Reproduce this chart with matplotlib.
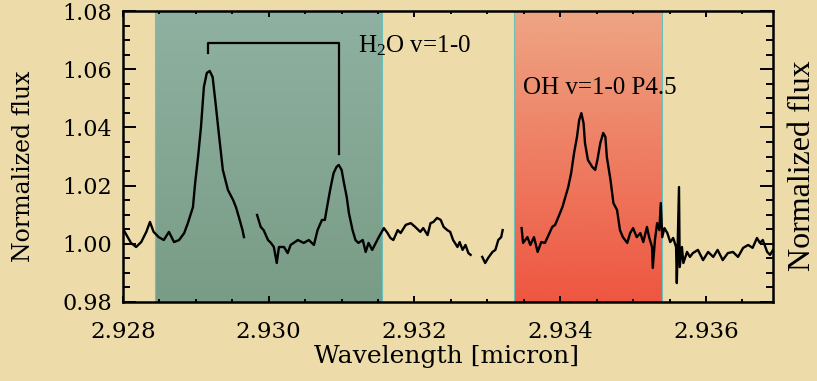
import numpy as np
import matplotlib
matplotlib.use("Agg")
import matplotlib.pyplot as plt
from matplotlib.colors import to_rgb
from matplotlib.ticker import MultipleLocator, FormatStrFormatter

nan = float("nan")

# spectrum, NaN marks the gaps
wavelength = [
    2.92801, 2.92811, 2.92818, 2.92825, 2.92832, 2.92837, 2.92842, 2.92849,
    2.92856, 2.92863, 2.92870, 2.92877, 2.92884, 2.92889, 2.92896, 2.92899,
    2.92903, 2.92907, 2.92911, 2.92915, 2.92919, 2.92923, 2.92927, 2.92932,
    2.92937, 2.92944, 2.92951, 2.92955, 2.92959, 2.92964, 2.92966, nan,
    2.92984, 2.92989, 2.92993, 2.92999, 2.93003, 2.93007, 2.93011, 2.93014,
    2.93021, 2.93026, 2.93030, 2.93040, 2.93048, 2.93055, 2.93062, 2.93067,
    2.93073, 2.93077, 2.93081, 2.93085, 2.93089, 2.93093, 2.93096, 2.93100,
    2.93103, 2.93107, 2.93110, 2.93115, 2.93119, 2.93123, 2.93129, 2.93133,
    2.93137, 2.93142, 2.93147, 2.93151, 2.93158, 2.93163, 2.93167, 2.93171,
    2.93177, 2.93181, 2.93188, 2.93195, 2.93201, 2.93208, 2.93212, 2.93218,
    2.93222, 2.93226, 2.93231, 2.93236, 2.93240, 2.93245, 2.93249, 2.93253,
    2.93259, 2.93262, 2.93266, 2.93270, 2.93274, 2.93277, nan,
    2.93293, 2.93297, 2.93301, 2.93307, 2.93311, 2.93315, 2.93319, 2.93321, nan,
    2.93347, 2.93349, 2.93355, 2.93359, 2.93364, 2.93369, 2.93374, 2.93379,
    2.93384, 2.93389, 2.93393, 2.93397, 2.93403, 2.93407, 2.93411, 2.93415,
    2.93419, 2.93423, 2.93426, 2.93429, 2.93432, 2.93434, 2.93438, 2.93444,
    2.93448, 2.93451, 2.93455, 2.93459, 2.93462, 2.93464, 2.93469, 2.93473,
    2.93478, 2.93482, 2.93486, 2.93492, 2.93496, 2.93500, 2.93505, 2.93510,
    2.93514, 2.93519, 2.93522, 2.93526, 2.93527, 2.93530, 2.93533, 2.93536,
    2.93538, 2.93540, 2.93543, 2.93547, 2.93551, 2.93555, 2.93559, 2.93560,
    2.93563, 2.93564, 2.93567, 2.93569, 2.93574, 2.93578, 2.93582, 2.93589,
    2.93596, 2.93603, 2.93610, 2.93616, 2.93623, 2.93630, 2.93637, 2.93644,
    2.93651, 2.93658, 2.93664, 2.93670, 2.93674, 2.93678, 2.93684, 2.93688,
    2.93692,
]
flux = [
    1.0047, 1.0003, 0.9989, 1.0006, 1.0041, 1.0075, 1.0041, 1.0023,
    1.0013, 1.0041, 1.0006, 1.0013, 1.0037, 1.0071, 1.0126, 1.0209,
    1.0298, 1.0401, 1.0539, 1.0587, 1.0594, 1.0573, 1.0484, 1.0367,
    1.0254, 1.0185, 1.0151, 1.0126, 1.0092, 1.0047, 1.0023, nan,
    1.0099, 1.0058, 1.0047, 1.0013, 1.0003, 0.9989, 0.9934, 0.9989,
    0.9989, 0.9968, 0.9996, 1.0013, 1.0003, 1.0013, 0.9996, 1.0047,
    1.0082, 1.0082, 1.0140, 1.0195, 1.0243, 1.0264, 1.0271, 1.0254,
    1.0212, 1.0161, 1.0106, 1.0047, 1.0013, 1.0003, 1.0013, 0.9972,
    1.0003, 0.9979, 1.0003, 1.0023, 1.0054, 1.0037, 1.0020, 1.0013,
    1.0047, 1.0037, 1.0065, 1.0071, 1.0058, 1.0041, 1.0054, 1.0030,
    1.0071, 1.0075, 1.0089, 1.0082, 1.0058, 1.0047, 1.0041, 1.0013,
    0.9989, 1.0006, 0.9979, 0.9996, 0.9968, 0.9962, nan,
    0.9955, 0.9934, 0.9951, 0.9972, 0.9979, 1.0013, 1.0023, 1.0047, nan,
    1.0054, 1.0003, 1.0023, 0.9996, 1.0023, 0.9972, 1.0006, 1.0003,
    1.0030, 1.0058, 1.0065, 1.0089, 1.0126, 1.0161, 1.0195, 1.0243,
    1.0312, 1.0367, 1.0425, 1.0449, 1.0415, 1.0346, 1.0288, 1.0264,
    1.0254, 1.0288, 1.0346, 1.0381, 1.0367, 1.0298, 1.0219, 1.0140,
    1.0116, 1.0047, 1.0023, 1.0003, 1.0037, 1.0054, 1.0023, 1.0037,
    1.0006, 1.0058, 1.0023, 0.9989, 0.9917, 1.0013, 1.0071, 1.0047,
    1.0140, 1.0023, 1.0054, 1.0037, 1.0006, 1.0020, 0.9989, 0.9865,
    1.0195, 0.9920, 0.9989, 0.9934, 0.9972, 0.9955, 0.9968, 0.9979,
    0.9944, 0.9972, 0.9955, 0.9979, 0.9944, 0.9968, 0.9972, 0.9955,
    0.9986, 0.9996, 0.9986, 1.0020, 1.0003, 1.0013, 0.9972, 0.9962,
    0.9979,
]

h2o_window = (2.92844, 2.93155)
oh_window = (2.93336, 2.93540)
h2o_lines = (2.92916, 2.93096)
bracket_top = 1.0690
bracket_feet = (1.0656, 1.0309)

xlim = (2.928, 2.93692)
ylim = (0.98, 1.08)

paper = "#eddca9"

plt.rcParams["mathtext.fontset"] = "custom"
plt.rcParams["mathtext.rm"] = "Liberation Serif"
plt.rcParams["mathtext.it"] = "Liberation Serif"

fig = plt.figure(figsize=(8.17, 3.81), dpi=100, facecolor=paper)
ax = fig.add_axes([123 / 817, 79 / 381, 650 / 817, 291 / 381])
ax.set_facecolor(paper)


def shade(x0, x1, top, bottom):
    t = np.linspace(0, 1, 200)[:, None, None]
    c0 = np.array(to_rgb(top))
    c1 = np.array(to_rgb(bottom))
    img = c0 + (c1 - c0) * t
    ax.imshow(img, extent=(x0, x1, ylim[0], ylim[1]), origin="upper",
              aspect="auto", zorder=0, interpolation="bilinear")
    for x in (x0, x1):
        ax.axvline(x, color="#6cc0bb", lw=0.8, zorder=0.5)


shade(*h2o_window, "#8fb1a1", "#799c86")
shade(*oh_window, "#eea584", "#ee5641")

ax.plot(wavelength, flux, color="black", lw=1.7, zorder=3)

# H2O bracket
ax.plot([h2o_lines[0], h2o_lines[0], h2o_lines[1], h2o_lines[1]],
        [bracket_feet[0], bracket_top, bracket_top, bracket_feet[1]],
        color="black", lw=1.6, zorder=3)
ax.text(2.93122, 1.0659, "H$_\\mathrm{2}$O v=1-0", family="Liberation Serif",
        fontsize=18, va="baseline", ha="left", zorder=4)
ax.text(2.93349, 1.0515, "OH v=1-0 P4.5", family="Liberation Serif",
        fontsize=18, va="baseline", ha="left", zorder=4)

ax.set_xlim(*xlim)
ax.set_ylim(*ylim)
ax.xaxis.set_major_locator(MultipleLocator(0.002))
ax.xaxis.set_minor_locator(MultipleLocator(0.0005))
ax.yaxis.set_major_locator(MultipleLocator(0.02))
ax.yaxis.set_minor_locator(MultipleLocator(0.005))
ax.xaxis.set_major_formatter(FormatStrFormatter("%.3f"))
ax.yaxis.set_major_formatter(FormatStrFormatter("%.2f"))

ax.tick_params(axis="x", which="both", direction="in", top=True, width=1.4,
               labelsize=16.5, pad=14)
ax.tick_params(axis="x", which="major", length=4.5)
ax.tick_params(axis="x", which="minor", length=2.3)
ax.tick_params(axis="y", which="both", direction="in", right=True, width=1.4,
               labelsize=16, pad=8)
ax.tick_params(axis="y", which="major", length=9.4)
ax.tick_params(axis="y", which="minor", length=4.8)
for lab in ax.get_xticklabels() + ax.get_yticklabels():
    lab.set_family("DejaVu Serif")
for sp in ax.spines.values():
    sp.set_linewidth(1.8)
    sp.set_zorder(5)

fig.text(447 / 817, 1 - 357 / 381, "Wavelength [micron]", family="DejaVu Serif",
         fontsize=18, ha="center", va="center")
fig.text(24 / 817, 1 - 166 / 381, "Normalized flux", family="DejaVu Serif",
         fontsize=17, rotation=90, ha="center", va="center")
fig.text(803 / 817, 1 - 166 / 381, "Normalized flux", family="Liberation Serif",
         fontsize=23, rotation=90, ha="center", va="center")

fig.savefig("out.png", dpi=100, facecolor=paper)
